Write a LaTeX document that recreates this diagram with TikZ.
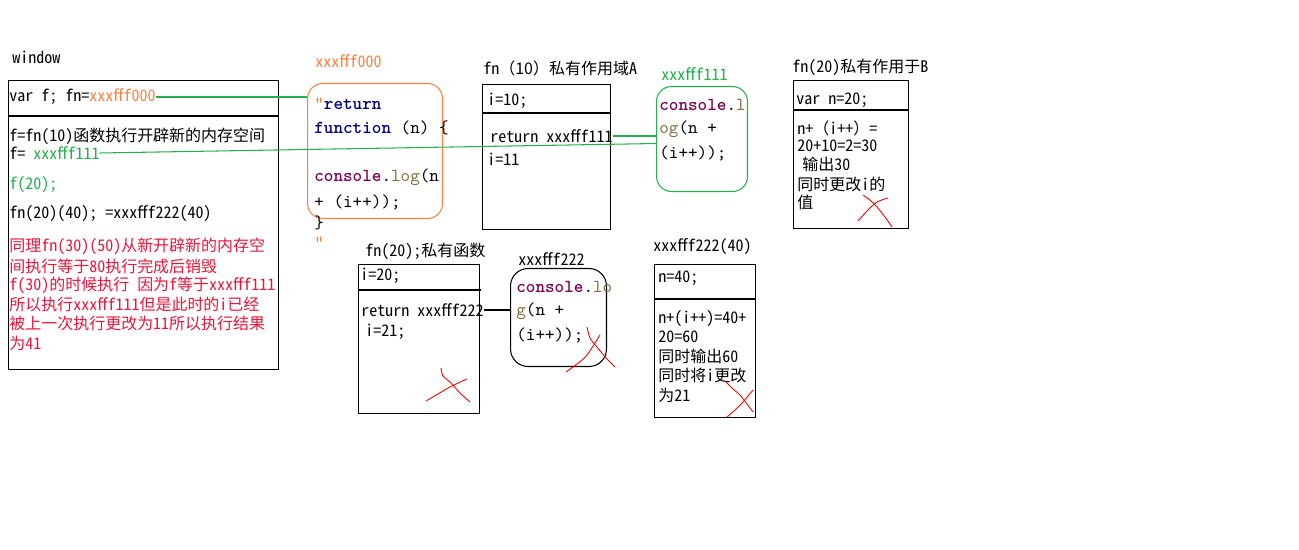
\documentclass[tikz,border=0pt]{standalone}
\usepackage{fontspec}
\setmainfont{Noto Sans CJK SC}[RawFeature=+hwid]
\newfontfamily\fullw{Noto Sans CJK SC}
\newfontfamily\codefont{lmmono10-regular.otf}[BoldFont=lmmonolt10-bold.otf]
\usetikzlibrary{positioning}
\definecolor{lnorange}{RGB}{255,128,64}
\definecolor{lngreen}{RGB}{34,177,76}
\definecolor{txred}{RGB}{240,20,56}
\definecolor{kwnavy}{RGB}{0,0,128}
\definecolor{kwpurple}{RGB}{127,0,85}
\definecolor{fnolive}{RGB}{128,110,60}
\tikzset{box/.style={draw,line width=0.6pt,anchor=north west,inner sep=0pt}}
\tikzset{link/.style={line width=0.6pt}}
\tikzset{scrib/.style={draw=red,line width=0.5pt}}

\begin{document}
\begin{tikzpicture}[x=0.02cm,y=-0.02cm,
    every node/.style={inner sep=0pt,anchor=west},
    txt/.style={font=\fontsize{9.1}{11}\selectfont},
    code/.style={font=\codefont\fontsize{10.4}{12}\selectfont}]
    \path[use as bounding box,fill=white] (0,0) rectangle (1299,550);

    % window
    \node[txt] (wtitle) at (12,57) {window};
    \node[box,minimum width=5.4cm,minimum height=5.78cm] (win) at (8,80) {};
    \draw[link] (win.west |- 0,116) -- (win.east |- 0,116);
    \node[txt] (varln) at (9,97) {var f; fn=\textcolor{lnorange}{xxxfff000}};
    \node[txt] (fnln) at (9,136) {f=fn(10)函数执行开辟新的内存空间};
    \node[txt] (fln) at (9,153) {f= \textcolor{lngreen}{xxxfff111}};
    \node[txt,lngreen] (callf) at (9,185) {f(20);};
    \node[txt] (callfn) at (9,214) {fn(20)(40); =xxxfff222(40)};
    \foreach \ln [count=\k] in {同理fn(30)(50)从新开辟新的内存空,
        间执行等于80执行完成后销毁,
        f(30)的时候执行 因为f等于xxxfff111,
        所以执行xxxfff111但是此时的i已经,
        被上一次执行更改为11所以执行结果,
        为41}
        \node[txt,txred] (note\k) at (9,{227.4+19.3*\k}) {\ln};

    % xxxfff000
    \node[txt,lnorange] (hex0) at (315,61) {xxxfff000};
    \node[box,draw=lnorange,rounded corners=0.3cm,minimum width=2.7cm,minimum height=2.7cm] (obox) at (307,83) {};
    \node[code] (oc1) at (314,104) {\textcolor{lnorange}{"}\textcolor{kwnavy}{\bfseries return}};
    \node[code] (oc2) at (314,128) {\textcolor{kwnavy}{\bfseries function} (n) \{};
    \node[code] (oc3) at (314,177) {\textcolor{kwpurple}{\bfseries console}.\textcolor{fnolive}{log}(n};
    \node[code] (oc4) at (314,202) {+ (i++));};
    \node[code] (oc5) at (314,223) {\}};
    \node[code,lnorange] (oc6) at (314,243) {"};

    % fn(10) scope A
    \node[txt] (atitle) at (483,68) {fn{\fullw （10）}私有作用域A};
    \node[box,minimum width=2.56cm,minimum height=2.9cm] (boxA) at (482,84) {};
    \draw[link] (boxA.west |- 0,113) -- (boxA.east |- 0,113);
    \node[txt] (a1) at (487,101) {i=10;};
    \node[txt] (a2) at (490,136) {return xxxfff111};
    \node[txt] (a3) at (487,159) {i=11};

    % xxxfff111
    \node[txt,lngreen] (hex1) at (661,74) {xxxfff111};
    \node[box,draw=lngreen,rounded corners=0.3cm,minimum width=1.82cm,minimum height=2.1cm] (gbox) at (656,86) {};
    \node[code] (g1) at (659,105) {\textcolor{kwpurple}{\bfseries console}.\textcolor{fnolive}{l}};
    \node[code] (g2) at (659,129) {\textcolor{fnolive}{og}(n +};
    \node[code] (g3) at (659,153) {(i++));};

    % fn(20) scope B
    \node[txt] (btitle) at (792,67) {fn(20)私有作用于B};
    \node[box,minimum width=2.3cm,minimum height=2.96cm] (boxB) at (793,80) {};
    \draw[link] (boxB.west |- 0,110) -- (boxB.east |- 0,110);
    \node[txt] (b1) at (796,100) {var n=20;};
    \node[txt] (b2) at (797,128) {n+{\fullw （}i++{\fullw ）}=};
    \node[txt] (b3) at (797,146) {20+10=2=30};
    \node[txt] (b4) at (802,164) {输出30};
    \node[txt] (b5) at (797,184) {同时更改i的};
    \node[txt] (b6) at (797,202) {值};
    \draw[scrib] plot[smooth] coordinates {(858,221) (868,210) (877,202) (888,198)};
    \draw[scrib] plot[smooth] coordinates {(863,195) (871,201) (877,207) (885,217) (892,227)};

    % fn(20) private
    \node[txt] (ctitle) at (365,251) {fn(20);私有函数};
    \node[box,minimum width=2.42cm,minimum height=2.98cm] (boxC) at (358,264) {};
    \draw[link] (boxC.west |- 0,290) -- (481,290);
    \node[txt] (c1) at (360,276) {i=20;};
    \node[txt] (c2) at (361,310) {return xxxfff222};
    \node[txt] (c3) at (365,332) {i=21;};
    \draw[scrib] plot[smooth] coordinates {(426,401) (438,394) (450,387) (467,379)};
    \draw[scrib] plot[smooth] coordinates {(441,368) (443,376) (450,382) (460,393) (470,402)};

    % xxxfff222
    \node[txt] (hex2) at (518,259) {xxxfff222};
    \node[box,rounded corners=0.35cm,minimum width=1.92cm,minimum height=1.96cm] (fbox) at (510,268) {};
    \node[code] (f1) at (516,287) {\textcolor{kwpurple}{\bfseries console}.\textcolor{fnolive}{lo}};
    \node[code] (f2) at (516,311) {\textcolor{fnolive}{g}(n +};
    \node[code] (f3) at (516,335) {(i++));};
    \draw[scrib] plot[smooth] coordinates {(566,372) (577,364) (587,355) (600,335)};
    \draw[scrib] plot[smooth] coordinates {(587,327) (590,338) (597,347) (606,358) (615,367)};

    % xxxfff222(40)
    \node[txt] (dtitle) at (653,247) {xxxfff222(40)};
    \node[box,minimum width=2.02cm,minimum height=3.06cm] (boxD) at (654,264) {};
    \draw[link] (boxD.west |- 0,299) -- (boxD.east |- 0,299);
    \node[txt] (d1) at (658,278) {n=40;};
    \node[txt] (d2) at (658,319) {n+(i++)=40+};
    \node[txt] (d3) at (658,337) {20=60};
    \node[txt] (d4) at (658,356) {同时输出60};
    \node[txt] (d5) at (658,375) {同时将i更改};
    \node[txt] (d6) at (658,395) {为21};
    \draw[scrib] plot[smooth] coordinates {(727,417) (735,410) (743,402) (753,390)};
    \draw[scrib] plot[smooth] coordinates {(726,382) (733,389) (740,395) (747,404) (753,412)};

    % references
    \draw[link,lngreen] (varln.east) -- (varln.east -| obox.west);
    \draw[link,lngreen] (fln.east) -- ([yshift=-0.09cm]gbox.west);
    \draw[link,lngreen] (a2.east) -- (a2.east -| gbox.west);
    \draw[link] (c2.east) -- (c2.east -| fbox.west);
\end{tikzpicture}
\end{document}
